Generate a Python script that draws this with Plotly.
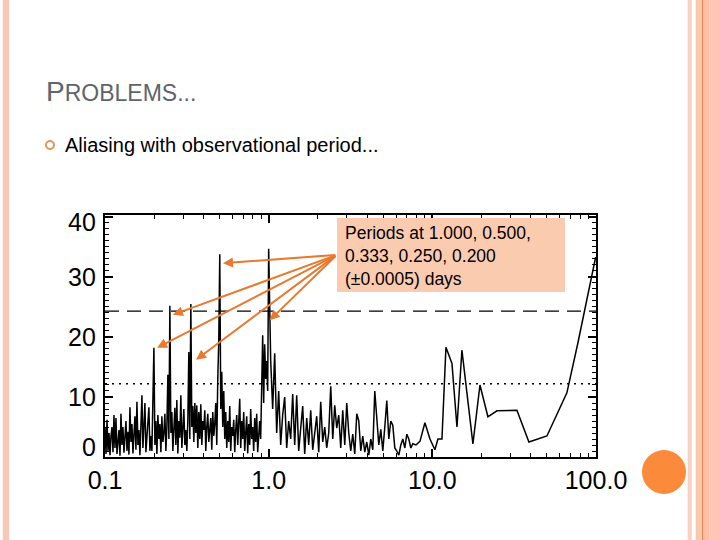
import numpy as np
import plotly.graph_objects as go

# ---------------- data ----------------
# power on a log-spaced period grid from 0.1 d to 1.0 d
power_short = [
    5, 0.5, 6.2, 1, 4, 0.3, 3.5, 5, 0.8, 7,
    1.5, 6.5, 0.5, 3, 4.5, 0.2, 7.2, 2, 5, 0.7,
    3.8, 6, 1, 4.2, 0.4, 8.3, 2.5, 5.5, 0.6, 3,
    6.8, 1.2, 9.2, 2, 4.5, 0.3, 6, 10.3, 1.5, 5,
    9, 0.8, 4, 6.5, 8.3, 1, 3.5, 1, 10.8, 18.2,
    2, 6, 0.5, 7, 3, 5.5, 0.8, 6.8, 2.5, 4,
    7.2, 1, 5, 13.7, 3, 25.2, 4, 7.5, 1, 5,
    8.2, 2, 9.5, 0.6, 6, 3.2, 10.3, 1.5, 5.5, 8,
    2, 4.5, 1, 6, 17.5, 3, 25.5, 5, 8.5, 2.5,
    9, 4, 8.6, 1.5, 7.5, 3, 8.8, 2, 6, 4.5,
    7.8, 1, 5, 7.2, 2.5, 4, 6.5, 1.2, 7.5, 3.5,
    5.5, 9, 2, 13, 19.5, 33.8, 8, 14.2, 5, 11,
    3, 7.5, 1.5, 6, 2.5, 8.5, 1, 5, 3.5, 6.2,
    0.8, 4.5, 7, 2, 5, 9.7, 1.5, 6, 3, 7.5,
    1, 4.5, 6.8, 0.6, 5.5, 2, 8, 3, 5, 1,
    6.5, 2.5, 7.2, 0.8, 4, 6, 3, 12, 20.3, 9,
    18.8, 13, 16, 11, 34.7,
]
# power on a log-spaced period grid from 1.0 d (excluded) to 7.6 d
power_mid = [
    16.2, 8, 17.3, 4, 11, 2, 7, 10, 1.5, 6,
    3, 10.5, 2, 10.3, 1, 5, 8.5, 0.5, 6.5, 2,
    7.8, 1.2, 4.5, 6.8, 0.8, 9.2, 2.5, 5, 1.5, 4,
    11.8, 3, 8.6, 4.8, 7, 1.5, 7.8, 2, 9, 4,
    1, 3.8, 0.5, 7.2, 6, 1, 3.5, 0.8, 2.5, 0.3,
    3, 1.2, 11, 6, 2, 4.6, 1, 5, 9.4, 3,
    6, 5.3, 1.5, 1, 0.3, 2, 3, 1.5, 3.8, 3,
    1.5, 2.2,
]
# sparse long-period part
period_long = [7.94, 8.40, 9.01, 9.67, 10.37, 10.82, 11.45, 12.11, 13.18, 14.14,
               15.16, 17.70, 19.54, 21.86, 24.81, 32.87, 38.92, 50.13, 60.18, 66.4,
               77.5, 99.5]
power_long = [2.0, 2.6, 5.7, 3.0, 1.2, 3.0, 3.0, 18.3, 15.6, 5.0,
              17.8, 2.2, 12.0, 6.7, 7.7, 7.8, 2.5, 3.5, 8.3, 10.7,
              19.0, 33.3]

threshold_dashed = 24.3
threshold_dotted = 12.2

x_tick_vals = [0.1, 1, 10, 100]
x_tick_text = ["0.1", "1.0", "10.0", "100.0"]
y_tick_vals = [0, 10, 20, 30, 40]
y_tick_text = ["0", "10", "20", "30", "40"]

# arrow heads (period, power) and common tail
arrow_heads = [(0.526, 32.3), (0.260, 23.7), (0.208, 18.2), (0.360, 16.2), (1.015, 22.8)]
arrow_tail = (2.61, 33.7)

# ---------------- build ----------------
period_short = np.logspace(-1, 0, len(power_short))
period_mid = np.logspace(0, np.log10(7.6), len(power_mid) + 1)[1:]
period_all = np.concatenate([period_short, period_mid, period_long])
power_all = np.concatenate([power_short, power_mid, power_long])

W, H = 720, 540
def px(x):
    return x / W
def py(y):
    return 1 - y / H

fig = go.Figure()
fig.add_trace(go.Scatter(x=period_all, y=power_all, mode="lines",
                         line=dict(color="black", width=1.5), hoverinfo="skip"))

font_fam = "Liberation Sans, Arial, Helvetica, sans-serif"
minor_x = [m * 10.0 ** e for e in (-1, 0, 1) for m in range(2, 10)]

fig.update_layout(
    width=W, height=H, margin=dict(l=0, r=0, t=0, b=0, autoexpand=False),
    paper_bgcolor="white", plot_bgcolor="white", showlegend=False,
    font=dict(family=font_fam, color="black"),
    xaxis=dict(type="log", range=[-1, 2], domain=[px(105), px(596)], automargin=False,
               showline=True, linecolor="black", linewidth=1.5, mirror="ticks",
               ticks="inside", ticklen=8, tickwidth=1.5, tickcolor="black",
               tickmode="array", tickvals=x_tick_vals, ticktext=x_tick_text,
               tickfont=dict(size=25, color="black", family=font_fam),
               showgrid=False, zeroline=False,
               minor=dict(tickmode="array", tickvals=minor_x, ticks="inside",
                          ticklen=4, tickwidth=1, tickcolor="black", showgrid=False)),
    yaxis=dict(range=[0, 40.33], domain=[py(457), py(215)], automargin=False,
               showline=True, linecolor="black", linewidth=1.5, mirror="ticks",
               ticks="inside", ticklen=8, tickwidth=1.5, tickcolor="black",
               tickmode="array", tickvals=y_tick_vals, showticklabels=False,
               showgrid=False, zeroline=False,
               minor=dict(tickmode="linear", tick0=0, dtick=1, ticks="inside",
                          ticklen=4, tickwidth=1, tickcolor="black", showgrid=False)),
)

shapes = []
# threshold lines
shapes.append(dict(type="line", xref="x domain", yref="y", x0=0, x1=1,
                   y0=threshold_dashed, y1=threshold_dashed,
                   line=dict(color="black", width=1.2, dash="14px,8px")))
shapes.append(dict(type="line", xref="x domain", yref="y", x0=0, x1=1,
                   y0=threshold_dotted, y1=threshold_dotted,
                   line=dict(color="black", width=1.5, dash="2px,5px")))
# annotation box
shapes.append(dict(type="rect", xref="paper", yref="paper", layer="above",
                   x0=px(337), x1=px(565), y0=py(292), y1=py(218),
                   fillcolor="#FBCBAF", line=dict(width=0)))
# slide decoration
def vband(x0, x1, color):
    return dict(type="rect", xref="paper", yref="paper", x0=px(x0), x1=px(x1),
                y0=0, y1=1, fillcolor=color, line=dict(width=0), layer="below")
shapes += [
    vband(2.7, 9, "#F9C8B4"),
    vband(687.7, 691.7, "#FAD0BE"),
    vband(695.7, 702, "#F9C6B0"),
    vband(702, 703, "#E08A52"),
    vband(703, 709.3, "#FEBFA2"),
    vband(709.3, 720, "#FFC6B8"),
]
shapes.append(dict(type="circle", xref="paper", yref="paper",
                   x0=px(642), x1=px(686), y0=py(494), y1=py(450),
                   fillcolor="#FB8A3B", line=dict(width=0)))
shapes.append(dict(type="circle", xref="paper", yref="paper",
                   x0=px(46), x1=px(54), y0=py(149), y1=py(141),
                   fillcolor="white", line=dict(color="#E39457", width=2)))
fig.update_layout(shapes=shapes)

ann = []
ann.append(dict(xref="paper", yref="paper", x=px(44), y=py(91), xanchor="left", yanchor="middle",
                showarrow=False,
                text="P<span style='font-size:23px'>ROBLEMS...</span>",
                font=dict(size=28, color="#5D646D", family=font_fam)))
ann.append(dict(xref="paper", yref="paper", x=px(63), y=py(145), xanchor="left", yanchor="middle",
                showarrow=False, text="Aliasing with observational period...",
                font=dict(size=20, color="black", family=font_fam)))
ann.append(dict(xref="paper", yref="paper", x=px(343), y=py(221), xanchor="left", yanchor="top",
                showarrow=False, align="left",
                text="Periods at 1.000, 0.500,<br>0.333, 0.250, 0.200<br>(±0.0005) days",
                font=dict(size=17.5, color="black", family=font_fam)))
# y tick labels (kept inside the axis span, like the reference)
y_label_shift = {0: 10, 40: -5}
for v, t in zip(y_tick_vals, y_tick_text):
    ann.append(dict(xref="paper", yref="y", x=px(98), y=v, xanchor="right", yanchor="middle",
                    yshift=y_label_shift.get(v, 0), showarrow=False, text=t,
                    font=dict(size=25, color="black", family=font_fam)))
for (hx, hy) in arrow_heads:
    ann.append(dict(xref="x", yref="y", x=np.log10(hx), y=hy,
                    axref="x", ayref="y", ax=np.log10(arrow_tail[0]), ay=arrow_tail[1],
                    text="", showarrow=True, arrowhead=2, arrowsize=1, arrowwidth=2,
                    arrowcolor="#E8792F", standoff=0, startstandoff=0))
fig.update_layout(annotations=ann)

fig.write_html("out.html", config={"displayModeBar": False},
               post_script="document.body.style.margin='0px';")
